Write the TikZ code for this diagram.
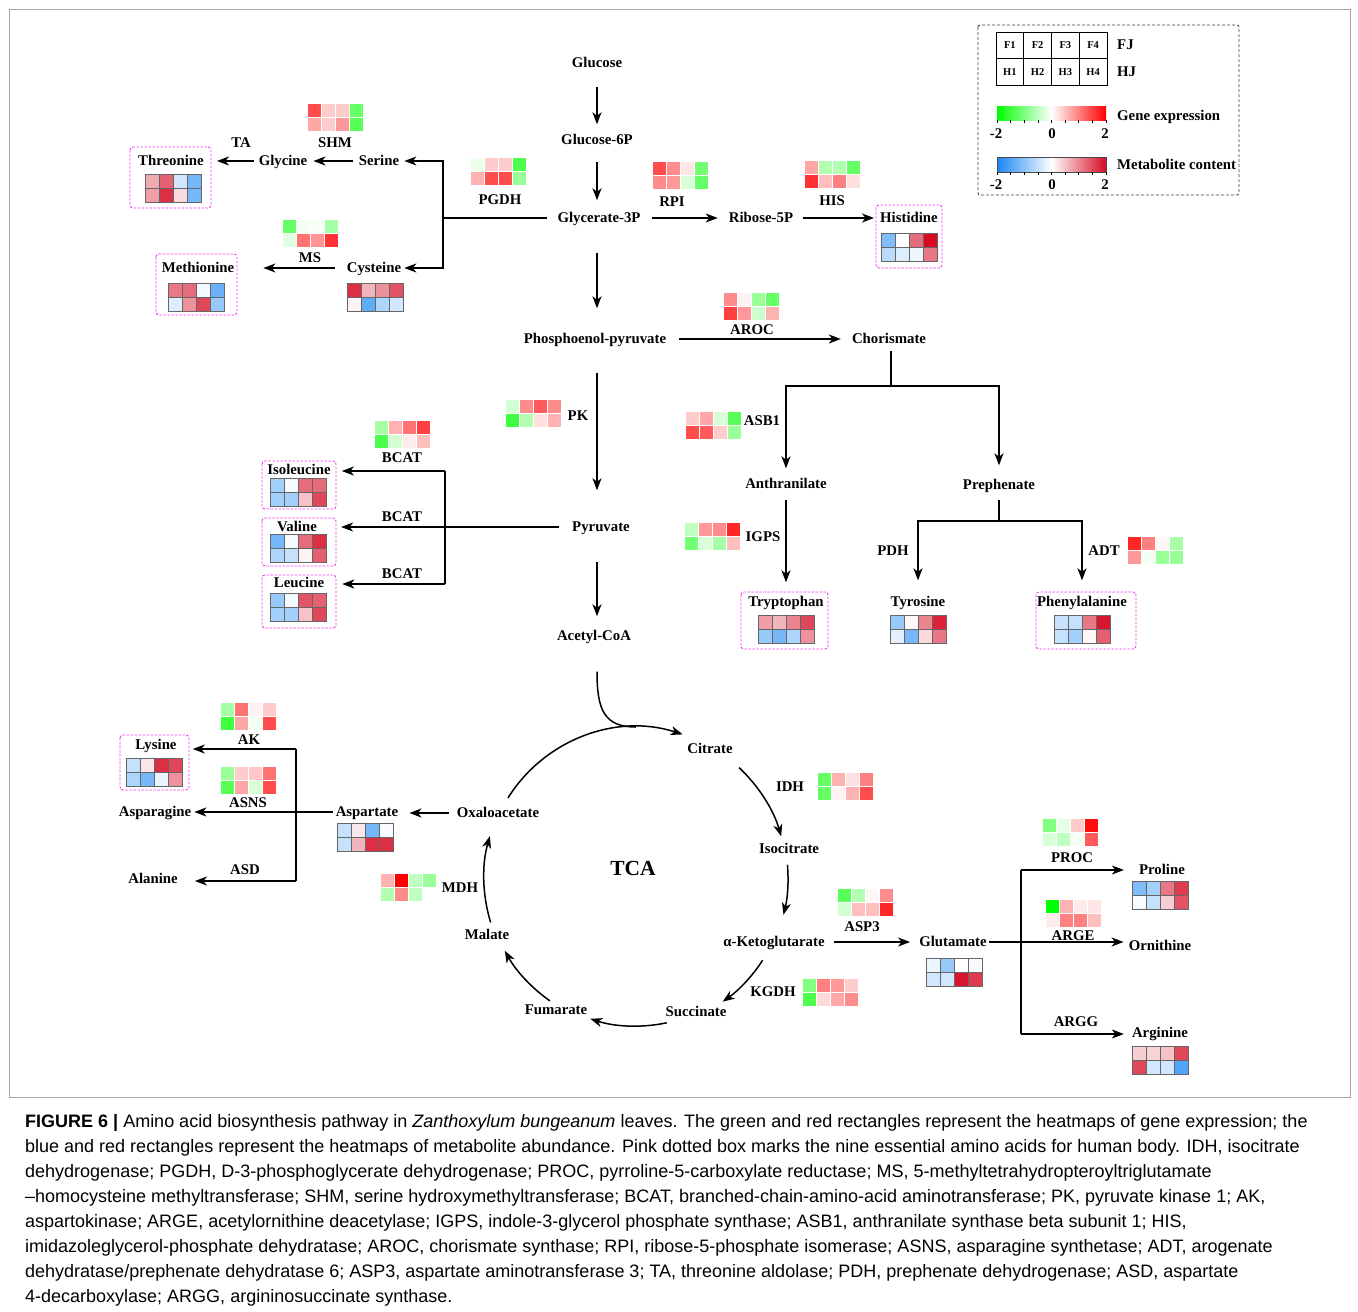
\documentclass[tikz,border=0pt]{standalone}
\usepackage{fontspec}
\setmainfont{Liberation Serif}
\newfontfamily\capfont{Liberation Sans}
\usetikzlibrary{arrows.meta,positioning,calc}
\definecolor{gneg}{RGB}{0,255,0}
\definecolor{gpos}{RGB}{255,0,0}
\definecolor{mneg}{RGB}{25,135,245}
\definecolor{mpos}{RGB}{215,10,35}
\definecolor{essbox}{RGB}{240,60,240}

% 4x2 heatmap: #1 = g (gene) or m (metabolite), #2,#3 = top left, #4 = values in percent
\newcommand{\heatmap}[4]{%
  \foreach \v [count=\i from 0] in {#4} {%
    \pgfmathtruncatemacro\cx{mod(\i,4)}%
    \pgfmathtruncatemacro\cy{div(\i,4)}%
    \pgfmathtruncatemacro\hv{abs(\v)}%
    \ifnum\v<0 \def\hc{#1neg}\else\def\hc{#1pos}\fi
    \fill[fill=\hc!\hv!white] ({#2+14*\cx},{#3+14*\cy}) rectangle ++(14,14);
  }
  \foreach \k in {1,2,3} \draw[#1grid] ({#2+14*\k},#3) -- ++(0,28);
  \draw[#1grid] (#2,{#3+14}) -- ++(56,0);
  \draw[#1grid] (#2,#3) rectangle ++(56,28);
}

\begin{document}
\begin{tikzpicture}[x=1pt, y=-1pt,
    lbl/.style={font=\bfseries\fontsize{14.8}{17}\selectfont, inner sep=2pt, text height=11pt, text depth=2pt},
    arr/.style={line width=1.5pt, -{Stealth[length=12pt,width=9pt,inset=3.5pt]}},
    ln/.style={line width=1.5pt},
    ess/.style={draw=essbox, dash pattern=on 2.5pt off 1.5pt, line width=0.9pt, rounded corners=3pt},
    ggrid/.style={white, line width=0.8pt},
    mgrid/.style={black!60, line width=0.8pt},
    lgd/.style={font=\bfseries\fontsize{10.5}{12}\selectfont, inner sep=0pt}]
  \useasboundingbox (0,0) rectangle (1358,1312);
  \draw[gray!70, line width=0.8pt] (9,9) rectangle (1350,1097);

  % main column
  \node[lbl] (glc) at (597,63) {Glucose};
  \node[lbl] (g6p) at (597,140) {Glucose-6P};
  \node[lbl] (g3p) at (599,218) {Glycerate-3P};
  \node[lbl] (pep) at (595,339) {Phosphoenol-pyruvate};
  \node[lbl] (pyr) at (601,527) {Pyruvate};
  \node[lbl] (acoa) at (594,636) {Acetyl-CoA};
  \coordinate (col) at (597,0);
  \draw[arr, shorten <=15pt, shorten >=7pt] (glc.south -| col) -- (g6p.north -| col);
  \draw[arr, shorten <=13pt, shorten >=9pt] (g6p.south -| col) -- (g3p.north -| col);
  \draw[arr, shorten <=26pt, shorten >=22pt] (g3p.south -| col) -- (pep.north -| col);
  \draw[arr, shorten <=25pt, shorten >=28pt] (pep.south -| col) -- (pyr.north -| col);
  \draw[arr, shorten <=26pt, shorten >=11pt] (pyr.south -| col) -- (acoa.north -| col);

  % ribose / histidine
  \node[lbl] (rib) at (761,218) {Ribose-5P};
  \node[lbl] (his) at (909,218) {Histidine};
  \draw[arr, shorten <=9pt, shorten >=9pt] (g3p.east) -- (rib.west);
  \draw[arr, shorten <=8pt, shorten >=4pt] (rib.east) -- (his.west);
  \node[lbl] (rpi) at (672,202) {RPI};
  \node[lbl] (hise) at (832,201) {HIS};
  \node[lbl] (pgdh) at (500,200) {PGDH};

  % serine branch
  \node[lbl] (ser) at (379,161) {Serine};
  \node[lbl] (gly) at (283,161) {Glycine};
  \node[lbl] (thr) at (171,161) {Threonine};
  \node[lbl] (cys) at (374,268) {Cysteine};
  \node[lbl] (met) at (198,268) {Methionine};
  \node[lbl] (shm) at (335,143) {SHM};
  \node[lbl] (ta) at (241,143) {TA};
  \node[lbl] (ms) at (310,258) {MS};
  \coordinate (bs) at (443,218);
  \draw[ln, shorten <=8pt] (g3p.west) -- (g3p.west -| bs);
  \draw[arr, shorten >=3pt] (bs) |- (ser);
  \draw[arr, shorten >=1pt] (bs) |- (cys);
  \draw[arr, shorten <=4pt, shorten >=4pt] (ser) -- (gly);
  \draw[arr, shorten <=3pt, shorten >=11pt] (gly) -- (thr);
  \draw[arr, shorten <=10pt, shorten >=27pt] (cys) -- (met);

  % chorismate branch
  \node[lbl] (chor) at (889,339) {Chorismate};
  \node[lbl] (anth) at (786,484) {Anthranilate};
  \node[lbl] (preph) at (999,485) {Prephenate};
  \node[lbl] (trp) at (786,602) {Tryptophan};
  \node[lbl] (tyr) at (918,602) {Tyrosine};
  \node[lbl] (phe) at (1082,602) {Phenylalanine};
  \node[lbl] (aroc) at (752,330) {AROC};
  \node[lbl] (asb) at (762,421) {ASB1};
  \node[lbl] (igps) at (763,537) {IGPS};
  \node[lbl] (pdh) at (893,551) {PDH};
  \node[lbl] (adt) at (1104,551) {ADT};
  \draw[arr, shorten <=11pt, shorten >=9pt] (pep.east) -- (chor.west);
  \coordinate (bc) at (891,386);
  \draw[ln, shorten <=3pt] (chor.south -| bc) -- (bc);
  \draw[arr, shorten >=7pt] (bc) -| (anth);
  \draw[arr, shorten >=11pt] (bc) -| (preph);
  \draw[arr, shorten <=7pt, shorten >=11pt] (anth) -- (trp);
  \coordinate (bp) at (999,521);
  \draw[ln, shorten <=6pt] (preph) -- (bp);
  \draw[arr, shorten >=13pt] (bp) -| (tyr);
  \draw[arr, shorten >=13pt] (bp) -| (phe);

  % pyruvate branch
  \node[lbl] (ile) at (299,470) {Isoleucine};
  \node[lbl] (val) at (297,527) {Valine};
  \node[lbl] (leu) at (299,583) {Leucine};
  \node[lbl] (pk) at (578,416) {PK};
  \node[lbl] (bcata) at (402,458) {BCAT};
  \node[lbl] (bcatb) at (402,517) {BCAT};
  \node[lbl] (bcatc) at (402,574) {BCAT};
  \coordinate (bi) at (445,471);
  \coordinate (bl) at (445,584);
  \draw[arr, shorten <=11pt, shorten >=22pt] (pyr.west) -- (pyr.west -| val.east);
  \draw[ln] (bi) -- (bl);
  \draw[arr, shorten >=9pt] (bi) -- (bi -| ile.east);
  \draw[arr, shorten >=16pt] (bl) -- (bl -| leu.east);

  % TCA cycle
  \coordinate (ctr) at (636,878);
  \node[font=\bfseries\fontsize{21.5}{24}\selectfont] (tca) at (633,868) {TCA};
  \node[lbl] (cit) at (710,749) {Citrate};
  \node[lbl] (icit) at (789,849) {Isocitrate};
  \node[lbl] (akg) at (774,942) {α-Ketoglutarate};
  \node[lbl] (suc) at (696,1012) {Succinate};
  \node[lbl] (fum) at (556,1010) {Fumarate};
  \node[lbl] (mal) at (487,935) {Malate};
  \node[lbl] (oaa) at (498,813) {Oxaloacetate};
  \node[lbl] (idh) at (790,787) {IDH};
  \node[lbl] (kgdh) at (773,992) {KGDH};
  \node[lbl] (mdh) at (460,888) {MDH};
  \draw[ln] ([yshift=-27pt]acoa.south -| col) .. controls +(0,38) and +(-32,0) .. ([shift={(90:151pt)}]ctr);
  \draw[arr] ([shift={(148:151pt)}]ctr) arc[start angle=148, end angle=72, radius=151pt];
  \draw[arr] ([shift={(47:151pt)}]ctr) arc[start angle=47, end angle=16, radius=151pt];
  \draw[arr] ([shift={(5:152pt)}]ctr) arc[start angle=5, end angle=-14, radius=152pt];
  \draw[arr] ([shift={(-33:151pt)}]ctr) arc[start angle=-33, end angle=-55, radius=151pt];
  \draw[arr] ([shift={(-78:148pt)}]ctr) arc[start angle=-78, end angle=-108, radius=148pt];
  \draw[arr] ([shift={(-125:150pt)}]ctr) arc[start angle=-125, end angle=-151, radius=150pt];
  \draw[arr] ([shift={(-163:152pt)}]ctr) arc[start angle=-163, end angle=-196, radius=152pt];

  % aspartate branch
  \node[lbl] (asp) at (367,812) {Aspartate};
  \node[lbl] (lys) at (156,745) {Lysine};
  \node[lbl] (asn) at (155,812) {Asparagine};
  \node[lbl] (ala) at (153,879) {Alanine};
  \node[lbl] (ak) at (249,740) {AK};
  \node[lbl] (asns) at (248,803) {ASNS};
  \node[lbl] (asd) at (245,870) {ASD};
  \draw[arr, shorten <=6pt, shorten >=9pt] (oaa.west) -- (oaa.west -| asp.east);
  \draw[arr, shorten <=1pt, shorten >=1pt] (asp.west) -- (asp.west -| asn.east);
  \coordinate (bk) at (296,749);
  \coordinate (bd) at (296,881);
  \draw[ln] (bk) -- (bd);
  \draw[arr, shorten >=14pt] (bk) -- (bk -| lys.east);
  \draw[arr, shorten >=15pt] (bd) -- (bd -| ala.east);

  % glutamate branch
  \node[lbl] (glu) at (953,942) {Glutamate};
  \node[lbl] (pro) at (1162,870) {Proline};
  \node[lbl] (orn) at (1160,946) {Ornithine};
  \node[lbl] (arg) at (1160,1033) {Arginine};
  \node[lbl] (asp3) at (862,927) {ASP3};
  \node[lbl] (proc) at (1072,858) {PROC};
  \node[lbl] (arge) at (1073,936) {ARGE};
  \node[lbl] (argg) at (1076,1022) {ARGG};
  \draw[arr, shorten <=7pt, shorten >=7pt] (akg.east) -- (akg.east -| glu.west);
  \draw[arr, shorten >=3pt] (glu.east) -- (glu.east -| orn.west);
  \coordinate (bq) at (1021,870);
  \coordinate (bg) at (1021,1034);
  \draw[ln] (bq) -- (bg);
  \draw[arr, shorten >=13pt] (bq) -- (bq -| pro.west);
  \draw[arr, shorten >=6pt] (bg) -- (bg -| arg.west);

  % heatmaps
  \heatmap{g}{307}{103}{70,20,20,-60,35,20,40,-65}
  \heatmap{m}{145}{174}{35,65,-20,-60,40,85,15,-60}
  \heatmap{g}{282}{219}{-60,-5,-3,-35,-12,55,42,80}
  \heatmap{m}{347}{283}{85,30,45,70,5,-70,-35,-20}
  \heatmap{m}{168}{283}{55,60,-5,-65,-15,45,75,-45}
  \heatmap{g}{470}{157}{-8,20,20,-70,30,70,70,-40}
  \heatmap{g}{652}{161}{70,45,10,-55,45,40,-15,-60}
  \heatmap{g}{804}{160}{35,-30,-30,-60,80,25,50,12}
  \heatmap{m}{881}{233}{-55,0,60,100,-30,-15,-8,55}
  \heatmap{g}{723}{292}{45,5,-40,-60,75,40,-20,30}
  \heatmap{g}{685}{411}{20,35,-15,-65,70,65,20,-40}
  \heatmap{g}{505}{399}{-18,45,65,45,-75,-30,12,30}
  \heatmap{g}{374}{420}{-35,30,55,75,-70,-18,8,25}
  \heatmap{m}{270}{478}{-40,-5,60,60,-40,-40,25,75}
  \heatmap{m}{270}{534}{-60,-5,60,85,-35,-25,5,65}
  \heatmap{m}{270}{593}{-45,-5,70,65,-40,-40,25,75}
  \heatmap{g}{684}{522}{-25,40,45,85,-55,-15,-35,25}
  \heatmap{m}{758}{615}{40,30,50,75,-45,-60,-35,45}
  \heatmap{m}{890}{615}{-45,3,50,90,-12,-60,15,55}
  \heatmap{g}{1127}{536}{85,50,3,-35,40,-5,-40,-40}
  \heatmap{m}{1054}{615}{-25,-25,55,95,-25,-40,3,65}
  \heatmap{g}{220}{702}{-35,55,5,20,-75,35,-5,70}
  \heatmap{m}{126}{758}{-25,10,85,75,-35,-60,-10,45}
  \heatmap{g}{220}{766}{-40,20,22,55,-65,35,-15,70}
  \heatmap{m}{337}{823}{-25,10,-60,-3,-25,30,85,85}
  \heatmap{g}{380}{873}{30,100,-25,-40,-30,45,-25,0}
  \heatmap{g}{817}{772}{-60,30,12,50,-60,5,30,70}
  \heatmap{g}{837}{888}{-65,-30,3,45,-18,25,25,85}
  \heatmap{g}{802}{978}{-50,50,40,20,-70,15,35,45}
  \heatmap{m}{926}{958}{-8,-45,0,-3,-20,-20,95,80}
  \heatmap{g}{1042}{818}{-50,-10,20,95,-15,-25,-5,65}
  \heatmap{m}{1132}{881}{-55,-40,55,80,-3,-25,20,70}
  \heatmap{g}{1045}{899}{-100,30,8,10,8,50,50,25}
  \heatmap{m}{1132}{1046}{20,18,25,75,75,-20,-20,-75}

  % essential amino acids
  \draw[ess] (130,147) rectangle (211,208);
  \draw[ess] (156,254) rectangle (237,315);
  \draw[ess] (876,205) rectangle (942,268);
  \draw[ess] (262,461) rectangle (336,509);
  \draw[ess] (262,518) rectangle (336,566);
  \draw[ess] (262,575) rectangle (336,628);
  \draw[ess] (741,592) rectangle (828,649);
  \draw[ess] (1036,592) rectangle (1136,649);
  \draw[ess] (120,735) rectangle (189,790);

  % legend
  \draw[black!75, dash pattern=on 3pt off 2pt, line width=0.8pt, rounded corners=2pt] (978,25) rectangle (1239,195);
  \draw[line width=0.8pt] (996,32) rectangle (1107,85);
  \draw[line width=0.8pt] (996,58.5) -- (1107,58.5);
  \foreach \k in {1,2,3} \draw[line width=0.8pt] ({996+27.75*\k},32) -- ++(0,53);
  \foreach \k in {1,...,4} {
    \node[lgd] (f\k) at ({996+27.75*(\k-0.5)},45) {F\k};
    \node[lgd] (h\k) at ({996+27.75*(\k-0.5)},72) {H\k};
  }
  \node[lbl, anchor=west] (fj) at (1115,44.5) {FJ};
  \node[lbl, anchor=west] (hj) at (1115,71.5) {HJ};
  \shade[left color=gneg, right color=gpos, middle color=white] (997,106) rectangle (1106,120);
  \shade[left color=mneg, right color=mpos, middle color=white] (997,157) rectangle (1106,172);
  \draw[black!70, line width=0.6pt] (997,157) rectangle (1106,172);
  \foreach \t in {0,...,8} {
    \draw[line width=0.6pt] ({997+13.625*\t},120) -- ++(0,3);
    \draw[line width=0.6pt] ({997+13.625*\t},172) -- ++(0,3);
  }
  \node[lbl] (gm2) at (996,134) {-2};
  \node[lbl] (g0) at (1052,134) {0};
  \node[lbl] (g2) at (1105,134) {2};
  \node[lbl] (mm2) at (996,185) {-2};
  \node[lbl] (m0) at (1052,185) {0};
  \node[lbl] (m2) at (1105,185) {2};
  \node[lbl, anchor=west] (gexp) at (1115,116) {Gene expression};
  \node[lbl, anchor=west] (mcon) at (1115,165) {Metabolite content};

  % caption
  \node[anchor=north west, align=left, inner sep=0pt, font=\capfont\fontsize{18}{25}\selectfont] (cap) at (25,1114)
    {\textbf{FIGURE 6 |} Amino acid biosynthesis pathway in \textit{Zanthoxylum bungeanum} leaves. The green and red rectangles represent the heatmaps of gene expression; the\\
     blue and red rectangles represent the heatmaps of metabolite abundance. Pink dotted box marks the nine essential amino acids for human body. IDH, isocitrate\\
     dehydrogenase; PGDH, D-3-phosphoglycerate dehydrogenase; PROC, pyrroline-5-carboxylate reductase; MS, 5-methyltetrahydropteroyltriglutamate\\
     –homocysteine methyltransferase; SHM, serine hydroxymethyltransferase; BCAT, branched-chain-amino-acid aminotransferase; PK, pyruvate kinase 1; AK,\\
     aspartokinase; ARGE, acetylornithine deacetylase; IGPS, indole-3-glycerol phosphate synthase; ASB1, anthranilate synthase beta subunit 1; HIS,\\
     imidazoleglycerol-phosphate dehydratase; AROC, chorismate synthase; RPI, ribose-5-phosphate isomerase; ASNS, asparagine synthetase; ADT, arogenate\\
     dehydratase/prephenate dehydratase 6; ASP3, aspartate aminotransferase 3; TA, threonine aldolase; PDH, prephenate dehydrogenase; ASD, aspartate\\
     4-decarboxylase; ARGG, argininosuccinate synthase.};
\end{tikzpicture}
\end{document}
